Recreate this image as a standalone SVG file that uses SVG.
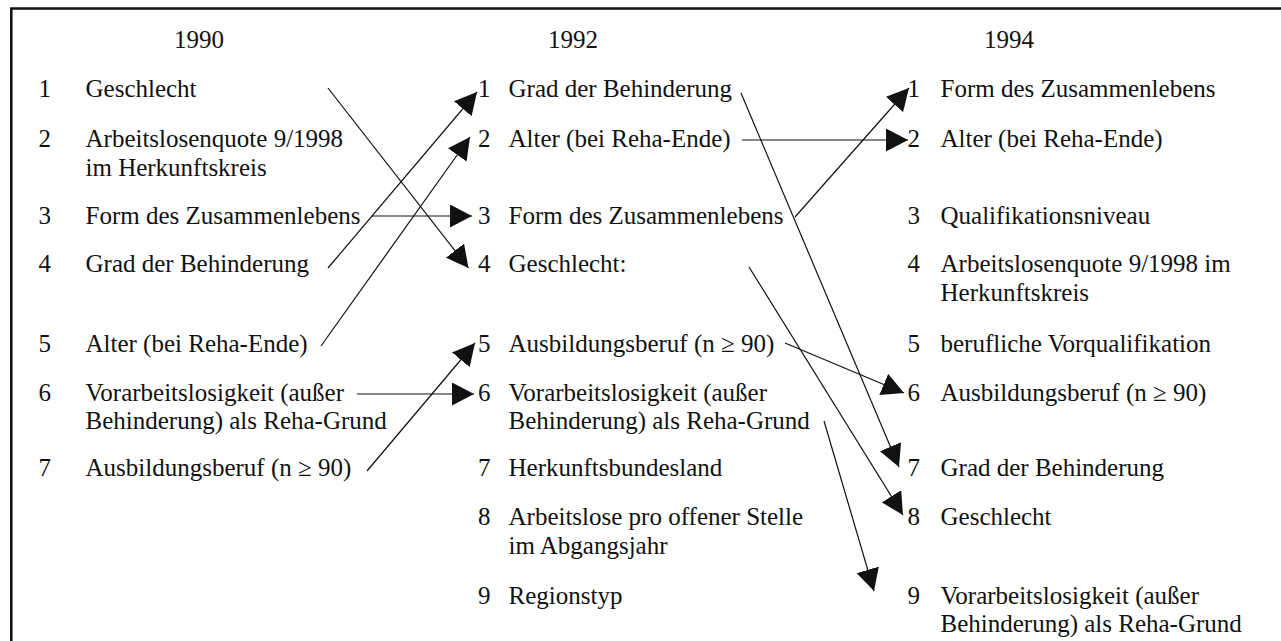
<svg xmlns="http://www.w3.org/2000/svg" width="1281" height="641" viewBox="0 0 1281 641">
<style>
text { font-family: "Liberation Serif", "Times New Roman", serif; font-size: 25px; fill: #111; }
.frame { fill: none; stroke: #111; stroke-width: 2.5; }
.conn line { stroke: #111; stroke-width: 1.2; fill: none; marker-end: url(#ah); }
</style>
<defs>
<marker id="ah" markerUnits="userSpaceOnUse" markerWidth="22" markerHeight="23" refX="22" refY="11.5" orient="auto" viewBox="0 0 22 23">
<path d="M0,0 L22,11.5 L0,23 Z" fill="#111"/>
</marker>
</defs>
<rect width="1281" height="641" fill="#fff"/>
<path class="frame" d="M11.3,641 V8.5 H1281"/>
<g id="years">
<text x="174" y="47.5">1990</text>
<text x="548" y="47.5">1992</text>
<text x="984" y="47.5">1994</text>
</g>
<g id="col1990">
<g id="a1"><text x="38.5" y="97">1</text><text x="85.5" y="97">Geschlecht</text></g>
<g id="a2"><text x="38.5" y="147">2</text><text x="85.5" y="147">Arbeitslosenquote 9/1998</text><text x="85.5" y="175.5">im Herkunftskreis</text></g>
<g id="a3"><text x="38.5" y="223.5">3</text><text x="85.5" y="223.5">Form des Zusammenlebens</text></g>
<g id="a4"><text x="38.5" y="272">4</text><text x="85.5" y="272">Grad der Behinderung</text></g>
<g id="a5"><text x="38.5" y="352">5</text><text x="85.5" y="352">Alter (bei Reha-Ende)</text></g>
<g id="a6"><text x="38.5" y="400.5">6</text><text x="85.5" y="400.5">Vorarbeitslosigkeit (außer</text><text x="85.5" y="428.5">Behinderung) als Reha-Grund</text></g>
<g id="a7"><text x="38.5" y="476">7</text><text x="85.5" y="476">Ausbildungsberuf (n ≥ 90)</text></g>
</g>
<g id="col1992">
<g id="b1"><text x="478" y="97">1</text><text x="508.5" y="97">Grad der Behinderung</text></g>
<g id="b2"><text x="478" y="147">2</text><text x="508.5" y="147">Alter (bei Reha-Ende)</text></g>
<g id="b3"><text x="478" y="223.5">3</text><text x="508.5" y="223.5">Form des Zusammenlebens</text></g>
<g id="b4"><text x="478" y="272">4</text><text x="508.5" y="272">Geschlecht:</text></g>
<g id="b5"><text x="478" y="352">5</text><text x="508.5" y="352">Ausbildungsberuf (n ≥ 90)</text></g>
<g id="b6"><text x="478" y="400.5">6</text><text x="508.5" y="400.5">Vorarbeitslosigkeit (außer</text><text x="508.5" y="428.5">Behinderung) als Reha-Grund</text></g>
<g id="b7"><text x="478" y="476">7</text><text x="508.5" y="476">Herkunftsbundesland</text></g>
<g id="b8"><text x="478" y="525">8</text><text x="508.5" y="525">Arbeitslose pro offener Stelle</text><text x="508.5" y="553.5">im Abgangsjahr</text></g>
<g id="b9"><text x="478" y="603.5">9</text><text x="508.5" y="603.5">Regionstyp</text></g>
</g>
<g id="col1994">
<g id="c1"><text x="907.5" y="97">1</text><text x="940.5" y="97">Form des Zusammenlebens</text></g>
<g id="c2"><text x="907.5" y="147">2</text><text x="940.5" y="147">Alter (bei Reha-Ende)</text></g>
<g id="c3"><text x="907.5" y="223.5">3</text><text x="940.5" y="223.5">Qualifikationsniveau</text></g>
<g id="c4"><text x="907.5" y="272">4</text><text x="940.5" y="272">Arbeitslosenquote 9/1998 im</text><text x="940.5" y="300.5">Herkunftskreis</text></g>
<g id="c5"><text x="907.5" y="352">5</text><text x="940.5" y="352">berufliche Vorqualifikation</text></g>
<g id="c6"><text x="907.5" y="400.5">6</text><text x="940.5" y="400.5">Ausbildungsberuf (n ≥ 90)</text></g>
<g id="c7"><text x="907.5" y="476">7</text><text x="940.5" y="476">Grad der Behinderung</text></g>
<g id="c8"><text x="907.5" y="525">8</text><text x="940.5" y="525">Geschlecht</text></g>
<g id="c9"><text x="907.5" y="603.5">9</text><text x="940.5" y="603.5">Vorarbeitslosigkeit (außer</text><text x="940.5" y="632">Behinderung) als Reha-Grund</text></g>
</g>
<g id="connectors" class="conn">
<line x1="328" y1="88" x2="468.5" y2="268"/>
<line x1="328" y1="268" x2="477" y2="92"/>
<line x1="321" y1="346" x2="470" y2="137"/>
<line x1="372" y1="216" x2="472" y2="216"/>
<line x1="357" y1="394" x2="474" y2="394"/>
<line x1="367" y1="471" x2="475" y2="343"/>
<line x1="741" y1="93" x2="899" y2="467"/>
<line x1="742" y1="140" x2="908" y2="140"/>
<line x1="795" y1="217" x2="909" y2="88"/>
<line x1="749" y1="267" x2="903" y2="515"/>
<line x1="785" y1="343" x2="904" y2="393"/>
<line x1="824" y1="421" x2="874" y2="591"/>
</g>
</svg>
